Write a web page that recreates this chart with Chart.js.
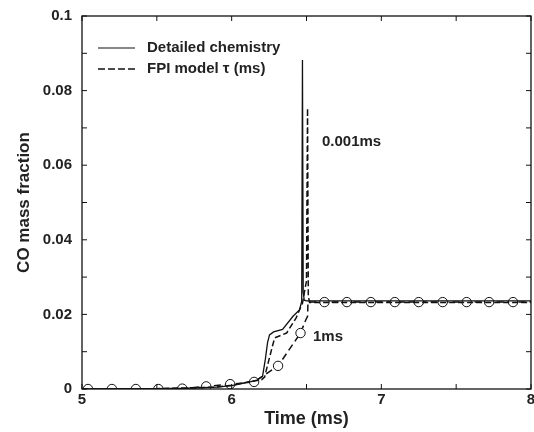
<!DOCTYPE html>
<html>
<head>
<meta charset="utf-8">
<script src="https://cdn.jsdelivr.net/npm/chart.js@4"></script>
<style>
  html, body { margin: 0; padding: 0; background: #fff; }
  #wrap { width: 534px; height: 432px; }
</style>
</head>
<body>
<div id="wrap"><canvas id="coChart" width="534" height="432"></canvas></div>
<script>
// 坐标轴刻度
const xTicks = [5, 6, 7, 8];
const xMinorTicks = [5.5, 6.5, 7.5];
const yTicks = [0, 0.02, 0.04, 0.06, 0.08, 0.1];
const yTickLabels = ["0", "0.02", "0.04", "0.06", "0.08", "0.1"];
const yMinorTicks = [0.01, 0.03, 0.05, 0.07, 0.09];

// 详细化学反应
const detailedTime = [5.0, 5.5, 5.7, 5.9, 6.0, 6.1, 6.17, 6.207, 6.225, 6.24, 6.253, 6.28, 6.34, 6.41, 6.453, 6.468, 6.473, 6.478, 6.485, 6.5, 8.0];
const detailedCO = [0, 0.0001, 0.0002, 0.0005, 0.0009, 0.0017, 0.0024, 0.0035, 0.008, 0.0125, 0.0145, 0.0153, 0.016, 0.0195, 0.0212, 0.0235, 0.0882, 0.026, 0.0238, 0.0236, 0.0236];

// FPI 模型 tau = 0.001ms
const fpiFastTime = [5.0, 5.5, 5.9, 6.0, 6.1, 6.2, 6.22, 6.25, 6.287, 6.367, 6.43, 6.473, 6.5, 6.507, 6.512, 6.52, 8.0];
const fpiFastCO = [0, 0.0001, 0.0005, 0.001, 0.0018, 0.0025, 0.0032, 0.008, 0.0137, 0.015, 0.019, 0.023, 0.029, 0.0753, 0.025, 0.0232, 0.0232];

// FPI 模型 tau = 1ms（带圆圈标记）
const fpiSlowTime = [5.0, 5.04, 5.2, 5.36, 5.51, 5.67, 5.83, 5.99, 6.15, 6.31, 6.46, 6.495, 6.507, 6.51, 6.62, 6.77, 6.93, 7.09, 7.25, 7.41, 7.57, 7.72, 7.88, 8.0];
const fpiSlowCO = [0, 0, 0, 0, 0, 0.0001, 0.0007, 0.0013, 0.0019, 0.0062, 0.015, 0.0185, 0.0195, 0.0233, 0.0233, 0.0233, 0.0233, 0.0233, 0.0233, 0.0233, 0.0233, 0.0233, 0.0233, 0.0233];
const fpiSlowMarkers = [5.04, 5.2, 5.36, 5.51, 5.67, 5.83, 5.99, 6.15, 6.31, 6.46, 6.62, 6.77, 6.93, 7.09, 7.25, 7.41, 7.57, 7.72, 7.88];

const toPoints = (xs, ys) => xs.map((x, i) => ({ x: x, y: ys[i] }));

const ink = "#111";
const fontFamily = "'Liberation Sans', Arial, sans-serif";
const boldFont = "bold 15px " + fontFamily;

// 边框、向内刻度、图例和注释
const framePlugin = {
  id: "frameTicks",
  afterDraw(chart) {
    const ctx = chart.ctx;
    const area = chart.chartArea;
    const xs = chart.scales.x;
    const ys = chart.scales.y;
    const len = 5;
    ctx.save();
    ctx.strokeStyle = ink;
    ctx.lineWidth = 1.3;
    ctx.strokeRect(area.left, area.top, area.right - area.left, area.bottom - area.top);
    ctx.lineWidth = 1;
    ctx.beginPath();
    xTicks.concat(xMinorTicks).forEach((v) => {
      const px = xs.getPixelForValue(v);
      ctx.moveTo(px, area.bottom);
      ctx.lineTo(px, area.bottom - len);
      ctx.moveTo(px, area.top);
      ctx.lineTo(px, area.top + len);
    });
    yTicks.concat(yMinorTicks).forEach((v) => {
      const py = ys.getPixelForValue(v);
      ctx.moveTo(area.left, py);
      ctx.lineTo(area.left + len, py);
      ctx.moveTo(area.right, py);
      ctx.lineTo(area.right - len, py);
    });
    ctx.stroke();

    // 图例
    ctx.lineWidth = 1.2;
    ctx.beginPath();
    ctx.moveTo(98, 48);
    ctx.lineTo(135, 48);
    ctx.stroke();
    ctx.lineWidth = 1.5;
    ctx.setLineDash([7, 3]);
    ctx.beginPath();
    ctx.moveTo(98, 69);
    ctx.lineTo(135, 69);
    ctx.stroke();
    ctx.setLineDash([]);
    ctx.fillStyle = "#222";
    ctx.font = boldFont;
    ctx.textBaseline = "middle";
    ctx.textAlign = "left";
    ctx.fillText("Detailed chemistry", 147, 48);
    ctx.fillText("FPI model \u03c4 (ms)", 147, 69);

    // 注释
    ctx.fillText("0.001ms", 322, 142);
    ctx.fillText("1ms", 313, 337);
    ctx.restore();
  },
};

const ctx = document.getElementById("coChart").getContext("2d");
new Chart(ctx, {
  type: "scatter",
  data: {
    datasets: [
      {
        label: "Detailed chemistry",
        data: toPoints(detailedTime, detailedCO),
        showLine: true,
        borderColor: ink,
        borderWidth: 1.3,
        pointRadius: 0,
        tension: 0,
      },
      {
        label: "FPI 0.001ms",
        data: toPoints(fpiFastTime, fpiFastCO),
        showLine: true,
        borderColor: ink,
        borderWidth: 1.5,
        borderDash: [6, 3],
        pointRadius: 0,
        tension: 0,
      },
      {
        label: "FPI 1ms",
        data: toPoints(fpiSlowTime, fpiSlowCO),
        showLine: true,
        borderColor: ink,
        borderWidth: 1.5,
        borderDash: [7, 4],
        backgroundColor: "#fff",
        pointBorderColor: ink,
        pointBackgroundColor: "#fff",
        pointBorderWidth: 1,
        pointRadius: (c) => (c.raw && fpiSlowMarkers.includes(c.raw.x) ? 4.7 : 0),
        tension: 0,
      },
    ],
  },
  options: {
    responsive: false,
    animation: false,
    events: [],
    layout: {
      padding: { left: 0, top: 16, right: 3, bottom: 0 },
    },
    plugins: {
      legend: { display: false },
      tooltip: { enabled: false },
    },
    scales: {
      x: {
        type: "linear",
        min: 5,
        max: 8,
        afterBuildTicks: (scale) => {
          scale.ticks = xTicks.map((v) => ({ value: v }));
        },
        afterFit: (scale) => {
          scale.height = 43;
          scale.paddingLeft = 0;
          scale.paddingRight = 0;
        },
        grid: { display: false, drawTicks: false },
        border: { display: false },
        ticks: {
          padding: 2,
          color: "#222",
          font: { family: fontFamily, size: 15, weight: "bold" },
          maxRotation: 0,
        },
        title: {
          display: true,
          text: "Time (ms)",
          color: "#222",
          padding: { top: 2, bottom: 2 },
          font: { family: fontFamily, size: 18, weight: "bold" },
        },
      },
      y: {
        type: "linear",
        min: 0,
        max: 0.1,
        afterBuildTicks: (scale) => {
          scale.ticks = yTicks.map((v) => ({ value: v }));
        },
        afterFit: (scale) => {
          scale.width = 82;
          scale.paddingTop = 0;
          scale.paddingBottom = 0;
        },
        grid: { display: false, drawTicks: false },
        border: { display: false },
        ticks: {
          padding: 10,
          color: "#222",
          font: { family: fontFamily, size: 15, weight: "bold" },
          callback: (value) => {
            const i = yTicks.findIndex((t) => Math.abs(t - value) < 1e-9);
            return i >= 0 ? yTickLabels[i] : "";
          },
        },
        title: {
          display: true,
          text: "CO mass fraction",
          color: "#222",
          padding: { top: 14, bottom: 4 },
          font: { family: fontFamily, size: 17, weight: "bold" },
        },
      },
    },
  },
  plugins: [framePlugin],
});
</script>
</body>
</html>
